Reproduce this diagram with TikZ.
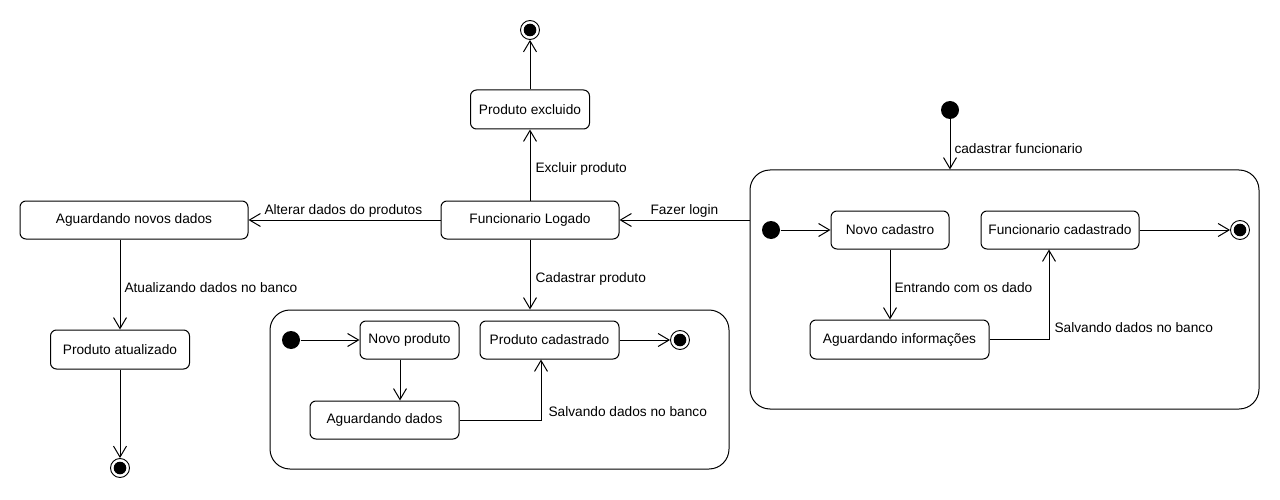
\documentclass[tikz,border=0pt]{standalone}
\usepackage{fontspec}
\setmainfont{Liberation Sans}
\usetikzlibrary{arrows.meta}
\begin{document}
\begin{tikzpicture}[x=1pt,y=-1pt,line width=1pt,
  font=\fontsize{13.7}{15}\selectfont,
  stbox/.style={draw,rounded corners=6pt,inner sep=0pt,minimum height=38pt},
  comp/.style={draw,rounded corners=20pt,inner sep=0pt},
  initst/.style={circle,fill=black,inner sep=0pt,minimum size=18pt},
  finalst/.style={circle,draw,inner sep=0pt,minimum size=19pt,line width=0.9pt,
     path picture={\fill (path picture bounding box.center) circle (6.3pt);}},
  arr/.style={-{Straight Barb[length=11pt,width=13pt,line width=1pt]}},
  lbl/.style={anchor=west,inner sep=0pt}]
\useasboundingbox[fill=white] (0,0) rectangle (1280,500);
% composite states
\node[comp,minimum width=459pt,minimum height=159pt] (comp2) at (499.5,389.5) {};
\node[comp,minimum width=509pt,minimum height=239pt] (comp1) at (1004.5,289.5) {};
% simple states
\node[stbox,minimum width=119pt,minimum height=39pt] (pexc) at (530,109.5) {Produto excluido};
\node[stbox,minimum width=178pt] (flog) at (530,220) {Funcionario Logado};
\node[stbox,minimum width=228pt] (anov) at (134,220) {Aguardando novos dados};
\node[stbox,minimum width=139pt,minimum height=39pt] (patu) at (120,349.5) {Produto atualizado};
\node[stbox,minimum width=99pt] (nprod) at (409.5,340) {Novo produto};
\node[stbox,minimum width=139pt] (pcad) at (549.5,340) {Produto cadastrado};
\node[stbox,minimum width=149pt] (agd) at (384.5,420) {Aguardando dados};
\node[stbox,minimum width=118pt] (ncad) at (890,230) {Novo cadastro};
\node[stbox,minimum width=158pt] (fcad) at (1060,230) {Funcionario cadastrado};
\node[stbox,minimum width=179pt,minimum height=39pt] (ainf) at (899.5,339.5) {Aguardando informações};
% pseudo states
\node[finalst] (ftop) at (530,30) {};
\node[finalst] (fbot) at (120,468) {};
\node[finalst] (f2) at (680,340) {};
\node[finalst] (f1) at (1240,230) {};
\node[initst] (i1top) at (950,110) {};
\node[initst] (i1) at (771,230) {};
\node[initst] (i2) at (291,340) {};
% transitions
\draw[arr] (i1top) -- (i1top |- comp1.north);
\node[lbl] (l1) at (954,149) {cadastrar funcionario};
\draw[arr] (flog.east -| comp1.west) -- (flog.east);
\node[lbl] (l2) at (650,211) {Fazer login};
\draw[arr] (flog.west) -- (anov.east);
\node[lbl] (l3) at (264,211) {Alterar dados do produtos};
\draw[arr] (flog.north) -- (pexc.south);
\node[lbl] (l4) at (535,169) {Excluir produto};
\draw[arr] (pexc.north) -- (ftop.south);
\draw[arr] (flog.south) -- (flog.south |- comp2.north);
\node[lbl] (l5) at (535,279) {Cadastrar produto};
\draw[arr] ([xshift=-14pt]anov.south) -- ([xshift=-14pt]anov.south |- patu.north);
\node[lbl] (l6) at (124,288) {Atualizando dados no banco};
\draw[arr] (patu.south) -- (fbot.north);
\draw[arr] (i2) -- (nprod.west);
\draw[arr] ([xshift=-9.5pt]nprod.south) -- ([xshift=-9.5pt]nprod.south |- agd.north);
\draw[arr] (agd.east) -| ([xshift=-8.5pt]pcad.south);
\node[lbl] (l7) at (548,412) {Salvando dados no banco};
\draw[arr] (pcad.east) -- (f2.west);
\draw[arr] (i1) -- (ncad.west);
\draw[arr] (ncad.south) -- (ncad.south |- ainf.north);
\node[lbl] (l8) at (894,288) {Entrando com os dado};
\draw[arr] (ainf.east) -| ([xshift=-11pt]fcad.south);
\node[lbl] (l9) at (1054,328) {Salvando dados no banco};
\draw[arr] (fcad.east) -- (f1.west);
\end{tikzpicture}
\end{document}
